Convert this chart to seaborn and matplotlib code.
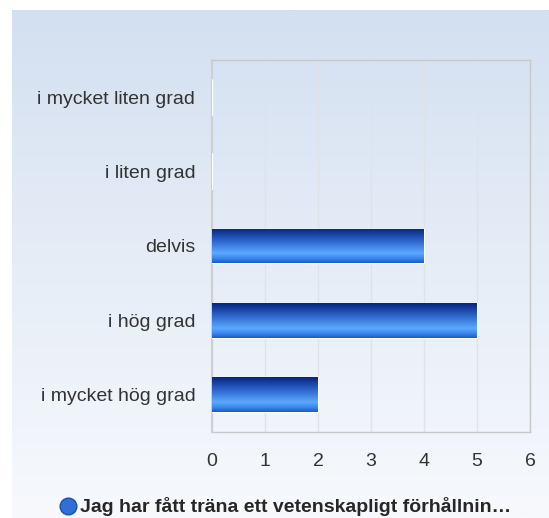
import numpy as np
import pandas as pd
import matplotlib
matplotlib.use("Agg")
import matplotlib.pyplot as plt
from matplotlib.colors import LinearSegmentedColormap
from matplotlib.lines import Line2D
import seaborn as sns

# --- data ---
categories = ["i mycket liten grad", "i liten grad", "delvis", "i hög grad", "i mycket hög grad"]
counts = [0, 0, 4, 5, 2]
x_ticks = [0, 1, 2, 3, 4, 5, 6]
series_name = "Jag har fått träna ett vetenskapligt förhållnin…"

df = pd.DataFrame({"kategori": categories, "antal": counts})

sns.set_style("white")
plt.rcParams["font.family"] = ["Liberation Sans", "DejaVu Sans"]

W, H = 549, 518
fig = plt.figure(figsize=(W / 100, H / 100), dpi=100)

# background panel with vertical gradient
bg = fig.add_axes([12 / W, 0, 1 - 12 / W, 1 - 10 / H], zorder=0)
bg_cmap = LinearSegmentedColormap.from_list("bg", ["#d3e0f1", "#e6edf7", "#f7f9fd"])
bg.imshow(np.linspace(0, 1, 256).reshape(-1, 1), cmap=bg_cmap, aspect="auto",
          extent=(0, 1, 0, 1))
bg.set_axis_off()

ax = fig.add_axes([212 / W, 1 - 432 / H, 318 / W, 372 / H], zorder=1)
ax.set_facecolor("none")

sns.barplot(data=df, x="antal", y="kategori", orient="h", width=0.47,
            color="#2f6fd6", ax=ax, zorder=3)

# gradient fill for each bar
bar_cmap = LinearSegmentedColormap.from_list(
    "bar", [(0, "#06237f"), (0.35, "#2c63c9"), (0.72, "#5aa8ff"),
            (0.86, "#3d89ee"), (1, "#1a5bc8")])
grad = np.linspace(0, 1, 128).reshape(-1, 1)
for p in ax.patches:
    x0, y0, w, h = p.get_x(), p.get_y(), p.get_width(), p.get_height()
    p.set_facecolor("none")
    p.set_edgecolor("white")
    p.set_linewidth(1.0)
    if w <= 0:
        ax.plot([0, 0], [y0, y0 + h], color="white", lw=1.5, zorder=4)
        continue
    im = ax.imshow(grad, cmap=bar_cmap, aspect="auto", zorder=3,
                   extent=(x0, x0 + w, y0 + h, y0), origin="upper")
    im.set_clip_path(p)

ax.set_xlim(0, 6)
ax.set_ylim(len(categories) - 0.5, -0.5)
ax.set_xticks(x_ticks)
ax.set_xlabel("")
ax.set_ylabel("")
ax.xaxis.grid(True, color="#dfe3e8", lw=1, zorder=0)
ax.set_axisbelow(True)
ax.tick_params(axis="x", length=0, pad=15, labelsize=14, colors="#333333")
ax.tick_params(axis="y", length=0, pad=12, labelsize=14, colors="#333333")
for side in ["top", "right", "bottom"]:
    ax.spines[side].set_color("#c8c8c8")
    ax.spines[side].set_linewidth(1)
ax.spines["left"].set_color("#cfcfcf")
ax.spines["left"].set_linewidth(1.5)

handle = Line2D([], [], marker="o", ls="", markersize=12,
                markerfacecolor="#2f6fd6", markeredgecolor="#1a4fb0")
ax.legend([handle], [series_name], loc="center", frameon=False,
          bbox_to_anchor=(285 / W, 1 - 507 / H), bbox_transform=fig.transFigure,
          prop={"weight": "bold", "size": 14}, handletextpad=0.1,
          borderaxespad=0, handlelength=1.0)

fig.savefig("out.png", dpi=100)
